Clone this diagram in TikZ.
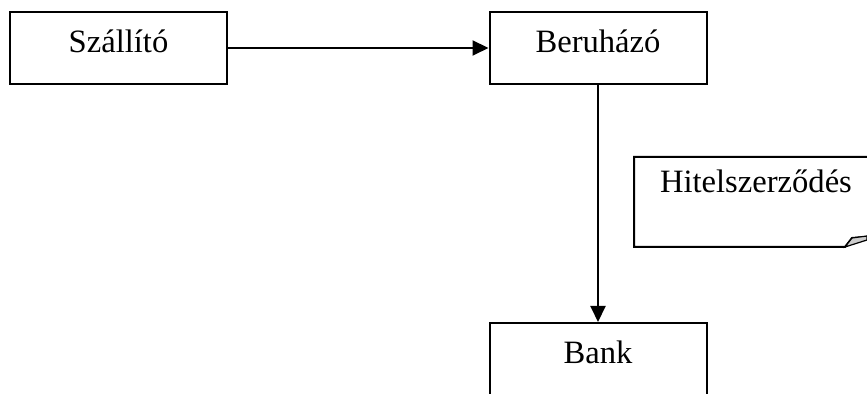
\documentclass[tikz,border=0pt]{standalone}
\usepackage{fontspec}
\setmainfont{Liberation Serif}
\usepackage{tikz}
\usetikzlibrary{arrows,arrows.meta}

\begin{document}
\begin{tikzpicture}[%
		x=0.5pt, y=-0.5pt,
		line width=1pt,
		font=\fontsize{16.3}{19}\selectfont,
		doboz/.style={draw, rectangle, inner sep=0pt, minimum width=108.5pt,
			text height=20.5pt, text depth=15.5pt},
		>={Triangle[length=8pt,width=7.5pt]}
		]

		%% Rahmen des Bildes
		\useasboundingbox (0,0) rectangle (867,394);
		\clip (0,0) rectangle (867,394);

		\node [doboz] (szallito) at (118.5,48) {Szállító};
		\node [doboz] (beruhazo) at (598,48) {Beruházó};
		\node [doboz] (bank) at (598,359) {Bank};

		\draw [->] (szallito) -- (beruhazo);
		\draw [->] (beruhazo) -- (bank);

		%% Notiz mit umgeknickter Ecke
		\draw (890,157) -- (634,157) -- (634,247) -- (845,247) -- (852,238) -- (890,235);
		\filldraw [fill=gray!40, line width=0.6pt] (845,247) -- (852,238) -- (867,236) -- (867,240) -- cycle;
		\node [anchor=base west, inner sep=0pt] (hitel) at (659,193) {Hitelszerződés};

	\end{tikzpicture}
\end{document}
